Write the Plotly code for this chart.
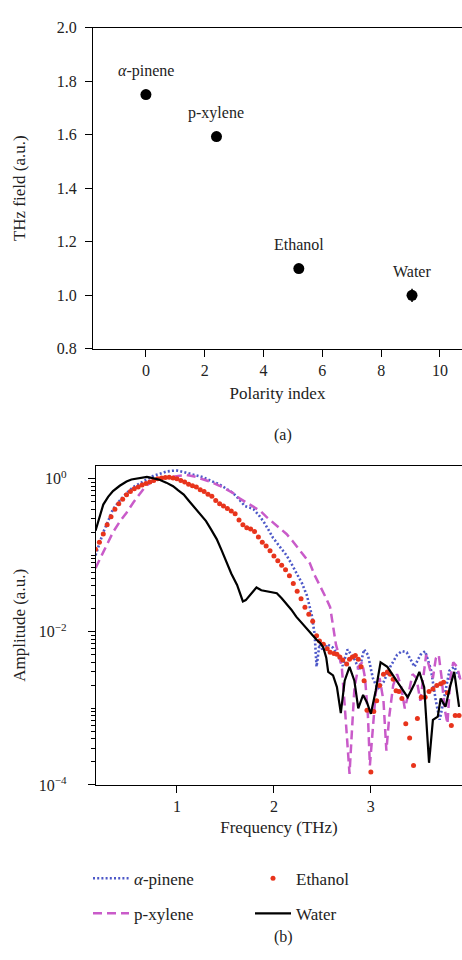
import plotly.graph_objects as go

# (a) THz field vs polarity index
solvents = ["<i>α</i>-pinene", "p-xylene", "Ethanol", "Water"]
polarity = [0.0, 2.4, 5.2, 9.05]
thz_field = [1.75, 1.593, 1.10, 1.0]
thz_err = [0.012, 0.006, 0.006, 0.025]

# (b) spectra
f_pinene = [0.16, 0.20, 0.24, 0.29, 0.34, 0.41, 0.48, 0.55, 0.62, 0.69, 0.76, 0.83, 0.89, 0.95, 1.00,
            1.06, 1.13, 1.20, 1.27, 1.35, 1.44, 1.51, 1.58, 1.64, 1.70, 1.75, 1.79, 1.84, 1.89, 1.94,
            1.99, 2.06, 2.13, 2.18, 2.23, 2.29, 2.34, 2.39, 2.42, 2.44, 2.47, 2.51, 2.55, 2.61, 2.66,
            2.71, 2.76, 2.83, 2.88, 2.93, 2.97, 3.02, 3.07, 3.13, 3.20, 3.27, 3.32, 3.37, 3.45, 3.51,
            3.56, 3.62, 3.67, 3.71, 3.75, 3.81, 3.86, 3.92]
a_pinene = [0.10, 0.14, 0.20, 0.28, 0.40, 0.52, 0.65, 0.78, 0.88, 0.98, 1.10, 1.17, 1.24, 1.27, 1.28,
            1.23, 1.16, 1.11, 1.05, 0.94, 0.84, 0.74, 0.65, 0.54, 0.44, 0.42, 0.40, 0.34, 0.28, 0.22,
            0.17, 0.13, 0.10, 0.078, 0.060, 0.043, 0.030, 0.0166, 0.0093, 0.0035, 0.0069, 0.0056, 0.0069, 0.0062, 0.0049,
            0.0036, 0.0059, 0.0044, 0.0032, 0.0059, 0.0050, 0.0025, 0.0018, 0.0022, 0.0035, 0.0050, 0.0056, 0.0054, 0.0035, 0.0050,
            0.0056, 0.0032, 0.00126, 0.00071, 0.00126, 0.0031, 0.0035, 0.0025]

f_xylene = [0.16, 0.20, 0.24, 0.29, 0.34, 0.41, 0.48, 0.55, 0.62, 0.67, 0.72, 0.78, 0.83, 0.90, 0.96,
            1.03, 1.10, 1.18, 1.27, 1.35, 1.44, 1.51, 1.58, 1.65, 1.72, 1.79, 1.86, 1.92, 1.99, 2.06,
            2.13, 2.19, 2.25, 2.31, 2.37, 2.42, 2.47, 2.53, 2.58, 2.61, 2.64, 2.67, 2.70, 2.73, 2.76,
            2.78, 2.80, 2.83, 2.87, 2.91, 2.94, 2.97, 2.99, 3.01, 3.05, 3.09, 3.13, 3.16, 3.19, 3.23,
            3.27, 3.31, 3.35, 3.39, 3.43, 3.47, 3.51, 3.54, 3.57, 3.61, 3.64, 3.67, 3.70, 3.73, 3.76,
            3.79, 3.82, 3.85, 3.89, 3.93]
a_xylene = [0.068, 0.085, 0.11, 0.148, 0.20, 0.275, 0.36, 0.49, 0.65, 0.78, 0.88, 0.98, 1.02, 1.05, 1.07,
            1.10, 1.12, 1.07, 0.98, 0.91, 0.81, 0.72, 0.65, 0.55, 0.49, 0.43, 0.38, 0.32, 0.27, 0.23,
            0.19, 0.155, 0.123, 0.10, 0.079, 0.055, 0.042, 0.029, 0.021, 0.0126, 0.0068, 0.0050, 0.0035, 0.0011, 0.00032,
            0.00014, 0.0004, 0.0018, 0.0035, 0.0040, 0.0025, 0.00079, 0.00018, 0.0004, 0.0016, 0.0025, 0.00126, 0.00028, 0.00079, 0.0020,
            0.0028, 0.0020, 0.0010, 0.0016, 0.0028, 0.0025, 0.00126, 0.0025, 0.0050, 0.0032, 0.0025, 0.0045, 0.0050, 0.0025, 0.0010,
            0.00063, 0.0025, 0.0040, 0.0035, 0.0022]

f_ethanol = [0.16, 0.20, 0.24, 0.28, 0.32, 0.36, 0.40, 0.44, 0.48, 0.52, 0.56, 0.60, 0.64, 0.68, 0.72,
             0.76, 0.80, 0.84, 0.88, 0.92, 0.96, 1.00, 1.04, 1.08, 1.12, 1.16, 1.20, 1.24, 1.28, 1.32,
             1.36, 1.40, 1.44, 1.48, 1.52, 1.56, 1.60, 1.64, 1.68, 1.72, 1.76, 1.80, 1.84, 1.88, 1.92,
             1.96, 2.00, 2.04, 2.08, 2.12, 2.16, 2.20, 2.24, 2.28, 2.32, 2.36, 2.40, 2.44, 2.47, 2.51,
             2.55, 2.58, 2.62, 2.65, 2.68, 2.71, 2.75, 2.78, 2.81, 2.84, 2.87, 2.90, 2.93, 2.96, 3.00,
             3.03, 3.06, 3.09, 3.13, 3.17, 3.20, 3.23, 3.26, 3.29, 3.32, 3.36, 3.40, 3.44, 3.48, 3.52,
             3.56, 3.60, 3.64, 3.68, 3.72, 3.75, 3.79, 3.83, 3.87, 3.91]
a_ethanol = [0.12, 0.148, 0.19, 0.25, 0.32, 0.40, 0.47, 0.54, 0.62, 0.68, 0.74, 0.78, 0.83, 0.87, 0.91,
             0.95, 1.0, 1.02, 1.035, 1.05, 1.02, 1.0, 0.95, 0.91, 0.85, 0.81, 0.78, 0.72, 0.68, 0.63,
             0.59, 0.52, 0.47, 0.44, 0.41, 0.38, 0.35, 0.29, 0.25, 0.23, 0.22, 0.204, 0.174, 0.148, 0.132,
             0.115, 0.098, 0.085, 0.074, 0.065, 0.054, 0.043, 0.034, 0.027, 0.021, 0.017, 0.0138, 0.0089, 0.0076, 0.0069,
             0.0060, 0.0054, 0.0052, 0.0051, 0.0047, 0.0043, 0.0038, 0.0044, 0.0047, 0.0049, 0.0044, 0.0035, 0.0023, 0.00095, 0.000148,
             0.00091, 0.00126, 0.0020, 0.0028, 0.0030, 0.0028, 0.0024, 0.0017, 0.00166, 0.00135, 0.00063, 0.00041, 0.00018, 0.00074, 0.0014,
             0.0014, 0.00166, 0.0018, 0.0020, 0.0021, 0.0022, 0.0016, 0.0006, 0.00081, 0.00081]

f_water = [0.16, 0.20, 0.24, 0.29, 0.34, 0.41, 0.48, 0.53, 0.58, 0.63, 0.69, 0.75, 0.82, 0.89, 0.96,
           1.01, 1.07, 1.12, 1.17, 1.23, 1.30, 1.35, 1.41, 1.46, 1.51, 1.56, 1.62, 1.66, 1.68, 1.71,
           1.74, 1.78, 1.82, 1.87, 1.92, 1.97, 2.03, 2.08, 2.13, 2.18, 2.23, 2.28, 2.34, 2.39, 2.44,
           2.48, 2.51, 2.54, 2.56, 2.61, 2.65, 2.69, 2.73, 2.78, 2.83, 2.87, 2.92, 2.96, 3.00, 3.05,
           3.10, 3.17, 3.22, 3.29, 3.38, 3.45, 3.50, 3.55, 3.60, 3.64, 3.69, 3.72, 3.77, 3.82, 3.86,
           3.91]
a_water = [0.21, 0.32, 0.46, 0.58, 0.69, 0.81, 0.92, 0.98, 1.0, 1.02, 1.06, 1.02, 0.97, 0.89, 0.80,
           0.71, 0.62, 0.52, 0.44, 0.36, 0.28, 0.22, 0.163, 0.117, 0.081, 0.058, 0.041, 0.030, 0.025, 0.026,
           0.029, 0.034, 0.038, 0.035, 0.034, 0.033, 0.032, 0.0275, 0.0234, 0.0195, 0.0158, 0.0135, 0.0112, 0.0093, 0.0079,
           0.0071, 0.0062, 0.0046, 0.0030, 0.0027, 0.0019, 0.00087, 0.0023, 0.0035, 0.0023, 0.0010, 0.0015, 0.0012, 0.00085, 0.0017,
           0.0040, 0.0035, 0.0028, 0.0021, 0.0014, 0.0021, 0.0030, 0.0019, 0.000195, 0.00071, 0.00078, 0.00135, 0.00105, 0.0020, 0.0030,
           0.00105]

serif = "Liberation Serif"
W, H = 462, 960

trace_a = go.Scatter(
    x=polarity, y=thz_field,
    mode="markers",
    marker=dict(color="black", size=11),
    error_y=dict(type="data", array=thz_err, color="black", thickness=1.5, width=0),
    showlegend=False,
    xaxis="x", yaxis="y"
)

trace_pinene = go.Scatter(
    x=f_pinene, y=a_pinene, mode="lines", name="<i>α</i>-pinene",
    line=dict(color="#4d58c8", width=2.6, dash="2px,2.2px"),
    legend="legend", legendgroup="p1",
    xaxis="x2", yaxis="y2"
)
trace_xylene = go.Scatter(
    x=f_xylene, y=a_xylene, mode="lines", name="p-xylene",
    line=dict(color="#c95bc9", width=2.5, dash="9px,5px"),
    legend="legend", legendgroup="p2",
    xaxis="x2", yaxis="y2"
)
trace_ethanol = go.Scatter(
    x=f_ethanol, y=a_ethanol, mode="markers", name="Ethanol",
    marker=dict(color="#e8341c", size=5),
    legend="legend2", legendgroup="p3",
    xaxis="x2", yaxis="y2"
)
trace_water = go.Scatter(
    x=f_water, y=a_water, mode="lines", name="Water",
    line=dict(color="black", width=2.2),
    legend="legend2", legendgroup="p4",
    xaxis="x2", yaxis="y2"
)

axis_style = dict(
    showline=True, linecolor="black", linewidth=1.3,
    ticks="outside", ticklen=7, tickwidth=1.2, tickcolor="black",
    showgrid=False, zeroline=False,
    tickfont=dict(family=serif, size=16, color="#222"),
)

minor_vals = []
for decade in [1e-4, 1e-3, 1e-2, 1e-1]:
    for k in range(1, 10):
        if k == 1 and decade in (1e-4, 1e-2):
            continue
        minor_vals.append(k * decade)

label_font = dict(family=serif, size=16, color="#222")
annots = []
for name, px, py in zip(solvents, polarity, thz_field):
    annots.append(dict(x=px, y=py, xref="x", yref="y", text=name, showarrow=False,
                       yshift=24, font=label_font))
annots.append(dict(x=283 / W, y=1 - 435 / H, xref="paper", yref="paper", text="(a)",
                   xanchor="center", yanchor="middle", showarrow=False, font=label_font))
annots.append(dict(x=283 / W, y=1 - 946 / H, xref="paper", yref="paper", text="(b)",
                   xanchor="center", yanchor="middle", showarrow=False, font=label_font))

legend_style = dict(xanchor="left", yanchor="top", tracegroupgap=10, itemwidth=36,
                    font=dict(family=serif, size=17, color="#222"), bgcolor="rgba(0,0,0,0)")

layout = go.Layout(
    width=W, height=H,
    margin=dict(l=0, r=0, t=0, b=0),
    plot_bgcolor="white", paper_bgcolor="white",
    font=dict(family=serif, size=15, color="#222"),
    xaxis=dict(axis_style, domain=[93 / W, 1], range=[-1.8, 10.75], tickvals=[0, 2, 4, 6, 8, 10],
               mirror=True, anchor="y",
               title=dict(text="Polarity index", standoff=8, font=dict(family=serif, size=17))),
    yaxis=dict(axis_style, domain=[1 - 347 / H, 1 - 20 / H], range=[0.8, 2.0], dtick=0.2,
               tickformat=".1f", anchor="x", ticklabelstandoff=5,
               title=dict(text="THz field (a.u.)", standoff=26, font=dict(family=serif, size=17))),
    xaxis2=dict(axis_style, domain=[96 / W, 1], range=[0.165, 3.94], tickvals=[1, 2, 3],
                mirror=True, anchor="y2",
                title=dict(text="Frequency (THz)", standoff=6, font=dict(family=serif, size=17))),
    yaxis2=dict(axis_style, type="log", domain=[1 - 791 / H, 1 - 466 / H], range=[-4, 0.17],
                tickvals=[1e-4, 1e-2, 1],
                ticktext=["10<sup>−4</sup>", "10<sup>−2</sup>", "10<sup>0</sup>"],
                ticklabelstandoff=18, anchor="x2",
                minor=dict(tickvals=minor_vals, ticks="outside", ticklen=3.5, tickcolor="black"),
                title=dict(text="Amplitude (a.u.)", standoff=8, font=dict(family=serif, size=17))),
    legend=dict(legend_style, x=88 / W, y=1 - 868 / H),
    legend2=dict(legend_style, x=250 / W, y=1 - 868 / H),
    annotations=annots,
)

config = {"displayModeBar": False}
fig = go.Figure(data=[trace_a, trace_pinene, trace_xylene, trace_ethanol, trace_water], layout=layout)
fig.write_html("out.html", config=config, post_script="document.body.style.margin='0px';")
